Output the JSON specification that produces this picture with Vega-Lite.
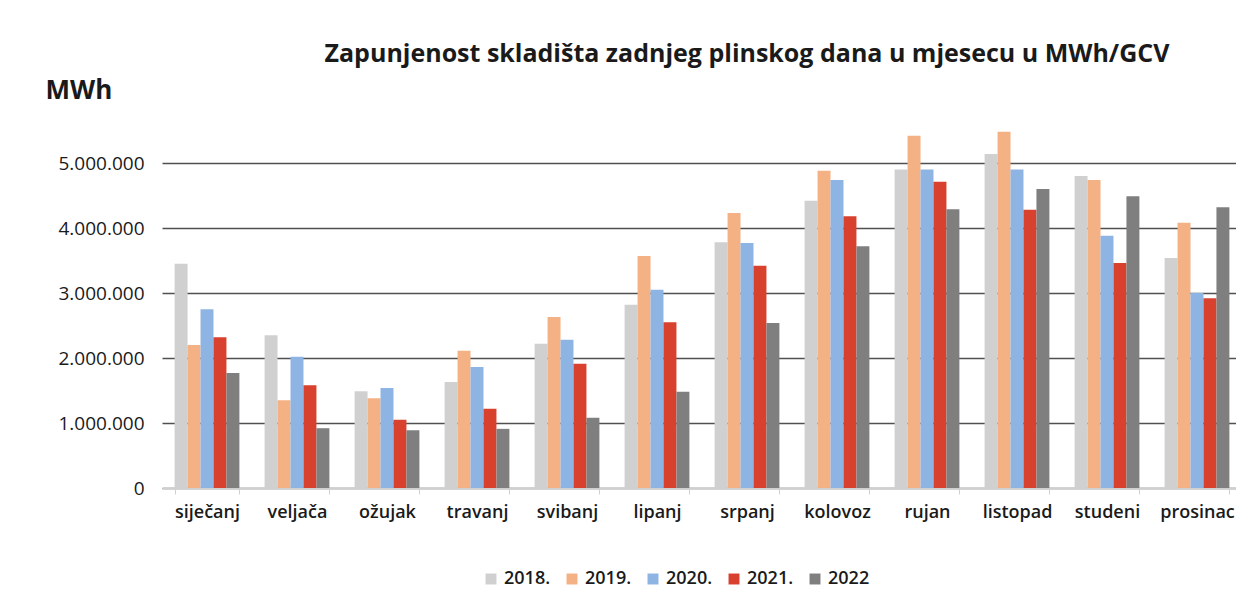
{
  "$schema": "https://vega.github.io/schema/vega-lite/v6.json",
  "autosize": {"type": "none"},
  "width": 1080,
  "height": 364,
  "padding": {"left": 162, "top": 124, "right": 0, "bottom": 116},
  "background": "white",
  "title": {
    "text": "Zapunjenost skladišta zadnjeg plinskog dana u mjesecu u MWh/GCV",
    "font": "Open Sans",
    "fontSize": 25,
    "fontWeight": "bold",
    "color": "#1a1a1a",
    "anchor": "middle",
    "dx": 45,
    "offset": 10
  },
  "data": {
    "values": [
      {"m": "siječanj", "y": "2018.", "v": 3450000},
      {"m": "siječanj", "y": "2019.", "v": 2200000},
      {"m": "siječanj", "y": "2020.", "v": 2750000},
      {"m": "siječanj", "y": "2021.", "v": 2320000},
      {"m": "siječanj", "y": "2022", "v": 1770000},
      {"m": "veljača", "y": "2018.", "v": 2350000},
      {"m": "veljača", "y": "2019.", "v": 1350000},
      {"m": "veljača", "y": "2020.", "v": 2020000},
      {"m": "veljača", "y": "2021.", "v": 1580000},
      {"m": "veljača", "y": "2022", "v": 920000},
      {"m": "ožujak", "y": "2018.", "v": 1490000},
      {"m": "ožujak", "y": "2019.", "v": 1380000},
      {"m": "ožujak", "y": "2020.", "v": 1540000},
      {"m": "ožujak", "y": "2021.", "v": 1050000},
      {"m": "ožujak", "y": "2022", "v": 890000},
      {"m": "travanj", "y": "2018.", "v": 1630000},
      {"m": "travanj", "y": "2019.", "v": 2110000},
      {"m": "travanj", "y": "2020.", "v": 1860000},
      {"m": "travanj", "y": "2021.", "v": 1220000},
      {"m": "travanj", "y": "2022", "v": 910000},
      {"m": "svibanj", "y": "2018.", "v": 2220000},
      {"m": "svibanj", "y": "2019.", "v": 2630000},
      {"m": "svibanj", "y": "2020.", "v": 2280000},
      {"m": "svibanj", "y": "2021.", "v": 1910000},
      {"m": "svibanj", "y": "2022", "v": 1080000},
      {"m": "lipanj", "y": "2018.", "v": 2820000},
      {"m": "lipanj", "y": "2019.", "v": 3570000},
      {"m": "lipanj", "y": "2020.", "v": 3050000},
      {"m": "lipanj", "y": "2021.", "v": 2550000},
      {"m": "lipanj", "y": "2022", "v": 1480000},
      {"m": "srpanj", "y": "2018.", "v": 3780000},
      {"m": "srpanj", "y": "2019.", "v": 4230000},
      {"m": "srpanj", "y": "2020.", "v": 3770000},
      {"m": "srpanj", "y": "2021.", "v": 3420000},
      {"m": "srpanj", "y": "2022", "v": 2540000},
      {"m": "kolovoz", "y": "2018.", "v": 4420000},
      {"m": "kolovoz", "y": "2019.", "v": 4880000},
      {"m": "kolovoz", "y": "2020.", "v": 4740000},
      {"m": "kolovoz", "y": "2021.", "v": 4180000},
      {"m": "kolovoz", "y": "2022", "v": 3720000},
      {"m": "rujan", "y": "2018.", "v": 4900000},
      {"m": "rujan", "y": "2019.", "v": 5420000},
      {"m": "rujan", "y": "2020.", "v": 4900000},
      {"m": "rujan", "y": "2021.", "v": 4710000},
      {"m": "rujan", "y": "2022", "v": 4290000},
      {"m": "listopad", "y": "2018.", "v": 5140000},
      {"m": "listopad", "y": "2019.", "v": 5480000},
      {"m": "listopad", "y": "2020.", "v": 4900000},
      {"m": "listopad", "y": "2021.", "v": 4280000},
      {"m": "listopad", "y": "2022", "v": 4600000},
      {"m": "studeni", "y": "2018.", "v": 4800000},
      {"m": "studeni", "y": "2019.", "v": 4740000},
      {"m": "studeni", "y": "2020.", "v": 3880000},
      {"m": "studeni", "y": "2021.", "v": 3460000},
      {"m": "studeni", "y": "2022", "v": 4490000},
      {"m": "prosinac", "y": "2018.", "v": 3540000},
      {"m": "prosinac", "y": "2019.", "v": 4080000},
      {"m": "prosinac", "y": "2020.", "v": 3000000},
      {"m": "prosinac", "y": "2021.", "v": 2920000},
      {"m": "prosinac", "y": "2022", "v": 4320000}
    ]
  },
  "mark": {"type": "bar"},
  "encoding": {
    "x": {
      "field": "m",
      "type": "nominal",
      "sort": null,
      "scale": {"paddingInner": 0.28, "paddingOuter": 0.14},
      "axis": {
        "title": null,
        "labelAngle": 0,
        "labelFont": "Open Sans",
        "labelFontSize": 18,
        "labelFontWeight": 600,
        "labelColor": "#1a1a1a",
        "labelPadding": 9,
        "domainColor": "#d0d0d0",
        "tickColor": "#d0d0d0",
        "tickBand": "extent",
        "tickSize": 6,
        "grid": false
      }
    },
    "xOffset": {"field": "y", "type": "nominal", "sort": null, "scale": {"paddingInner": 0, "paddingOuter": 0}},
    "y": {
      "field": "v",
      "type": "quantitative",
      "scale": {"domain": [0, 5600000], "nice": false},
      "axis": {
        "values": [0, 1000000, 2000000, 3000000, 4000000, 5000000],
        "labelExpr": "replace(format(datum.value, ','), regexp(',', 'g'), '.')",
        "labelFont": "Open Sans",
        "labelFontSize": 19,
        "labelColor": "#1a1a1a",
        "labelPadding": 18,
        "domain": false,
        "ticks": false,
        "grid": true,
        "gridColor": "#505050",
        "gridWidth": 1.6,
        "title": "MWh",
        "titleFont": "Open Sans",
        "titleFontSize": 26,
        "titleFontWeight": "bold",
        "titleColor": "#1a1a1a",
        "titleAngle": 0,
        "titleAlign": "left",
        "titleBaseline": "alphabetic",
        "titleX": -117,
        "titleY": -26
      }
    },
    "color": {
      "field": "y",
      "type": "nominal",
      "sort": null,
      "scale": {
        "domain": ["2018.", "2019.", "2020.", "2021.", "2022"],
        "range": ["#d0d0d0", "#f4b183", "#8eb4e3", "#d9412f", "#7f7f7f"]
      },
      "legend": {
        "title": null,
        "orient": "none",
        "direction": "horizontal",
        "legendX": 320,
        "legendY": 446,
        "symbolType": "square",
        "symbolSize": 120,
        "symbolStrokeWidth": 0,
        "labelFont": "Open Sans",
        "labelFontSize": 18,
        "labelFontWeight": 600,
        "labelColor": "#1a1a1a",
        "columnPadding": 12,
        "labelOffset": 4
      }
    }
  },
  "config": {"view": {"stroke": null}}
}
